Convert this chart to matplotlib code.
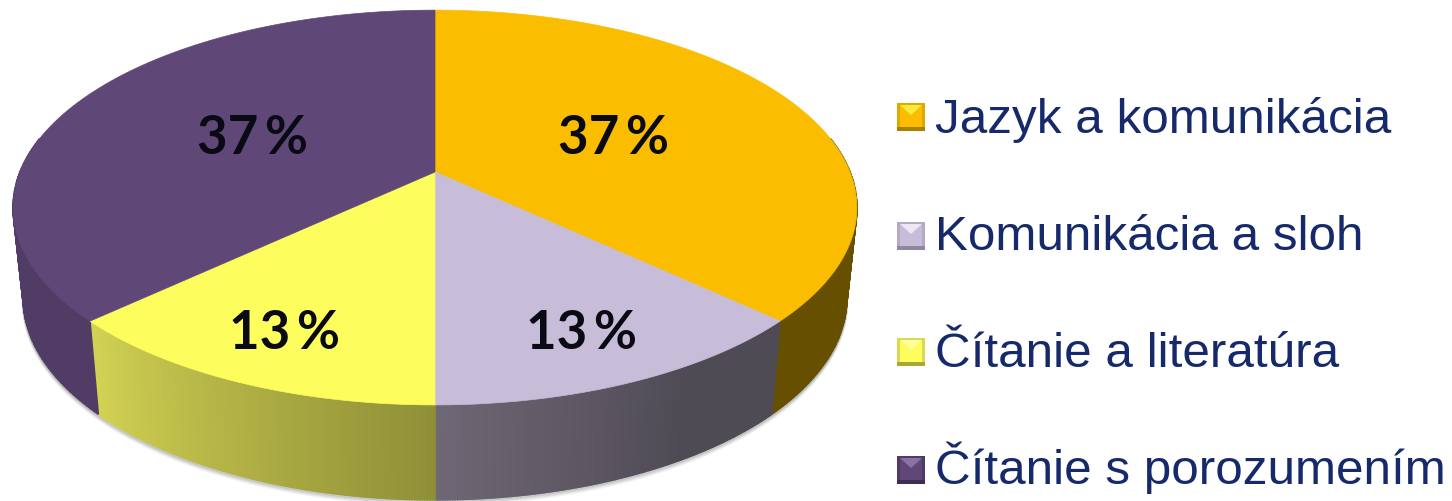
import numpy as np
import matplotlib
matplotlib.use("Agg")
import matplotlib.pyplot as plt
from matplotlib.colors import to_rgb

categories = ["Jazyk a komunikácia", "Komunikácia a sloh", "Čítanie a literatúra", "Čítanie s porozumením"]
values = [37, 13, 13, 37]

top_colors = ["#FBBD00", "#C8BDD8", "#FDFD5E", "#5F4878"]
WALL = [("#665000", "#665000"), ("#4F4B55", "#6E6775"), ("#8F8F38", "#D2D253"), ("#503C64", "#503C64")]
marker_light = ["#FFEA3C", "#EDE8F3", "#FFFF9A", "#8A72A5"]
marker_side = ["#E0A800", "#B4AAC6", "#DADA50", "#4F3B66"]
marker_dark = ["#A88000", "#8F879E", "#A8A838", "#3E2C52"]
label_radius = [0.48, 0.79, 0.79, 0.48]
label_dx = [2, -3, -1, -6]
label_dy = 2

W, H = 1452, 501
fig = plt.figure(figsize=(W / 100, H / 100), dpi=100)
ax = fig.add_axes([0, 0, 1, 1])
ax.set_xlim(0, W)
ax.set_ylim(H, 0)
ax.axis("off")

K, A, B, CX, CY = 0.18, 415.0, 191.0, 435.0, 172.0
A2, B2, CY2 = 405.0, 195.0, 262.0


def project(theta, r=1.0, a=A, b=B, cy=CY):
    u, v = r * np.sin(theta), -r * np.cos(theta)
    d = 1 - K * v
    return CX + a * u / d, cy + b * v / d


def project_low(theta):
    return project(theta, a=A2, b=B2, cy=CY2)


edges = np.cumsum([0] + values) / sum(values) * 2 * np.pi

# soft shadow under the rim
t = np.linspace(np.pi * 0.44, np.pi * 1.56, 300)
for off, al in zip([6, 4.5, 3, 1.5], [0.05, 0.08, 0.12, 0.18]):
    x, y = project_low(t)
    ax.plot(x, y + off * 0.8, color="#444444", alpha=al, lw=2, zorder=1)

# side walls: gradient strips on the visible front part only
for i in range(len(values)):
    th = np.linspace(edges[i], edges[i + 1], 160)
    c0, c1 = np.array(to_rgb(WALL[i][0])), np.array(to_rgb(WALL[i][1]))
    for j in range(len(th) - 1):
        a, b = th[j], th[j + 1]
        if a < np.pi * 0.44 or b > np.pi * 1.56:
            continue
        xa, ya = project(a)
        xb, yb = project(b)
        xc, yc = project_low(b)
        xd, yd = project_low(a)
        f = j / (len(th) - 2)
        if i == 1:
            f = max(0, (f - 0.35) / 0.65)
        col = c0 + (c1 - c0) * f
        ax.fill([xa, xb, xc, xd], [ya, yb, yc, yd], facecolor=col, edgecolor=col, lw=1.2, zorder=2 + 0.0001 * i)

# top faces
for i in range(len(values)):
    th = np.linspace(edges[i], edges[i + 1], 200)
    x, y = project(th)
    ax.fill(np.r_[CX, x], np.r_[CY, y], color=top_colors[i], lw=0.5, zorder=3)

# data labels
mids = (edges[:-1] + edges[1:]) / 2
for i, v in enumerate(values):
    x, y = project(mids[i], r=label_radius[i])
    ax.text(x + label_dx[i], y + label_dy, f"{v}\u2009%", family=["Lato", "DejaVu Sans"], weight="bold", fontsize=38,
            color="#0A0A14", ha="center", va="center", zorder=5)

# legend
lx0, lx1, hs = 897, 925, 14
rows = [117, 236, 352, 470]
bases = [133, 250, 367, 484]
for i, c in enumerate(categories):
    yc = rows[i]
    y0, y1 = yc - hs, yc + hs
    xm = (lx0 + lx1) / 2
    ax.fill([lx0, lx1, lx1, lx0], [y0, y0, y1, y1], color=marker_side[i], lw=0, zorder=4)
    ax.fill([lx0 + 3, lx1 - 3, lx1 - 3, lx0 + 3], [y0 + 3, y0 + 3, y1 - 4, y1 - 4], color=top_colors[i], lw=0, zorder=4)
    ax.fill([lx0, lx1, lx1, lx0], [y1 - 4, y1 - 4, y1, y1], color=marker_dark[i], lw=0, zorder=4)
    ax.fill([lx0 + 3, lx1 - 3, xm], [y0 + 2, y0 + 2, yc - 2], color=marker_light[i], lw=0, zorder=4)
    ax.text(935, bases[i], c, family="Liberation Sans", fontsize=35.6, color="#16296B",
            ha="left", va="baseline", zorder=5)

fig.savefig("out.png", dpi=100, facecolor="white")
